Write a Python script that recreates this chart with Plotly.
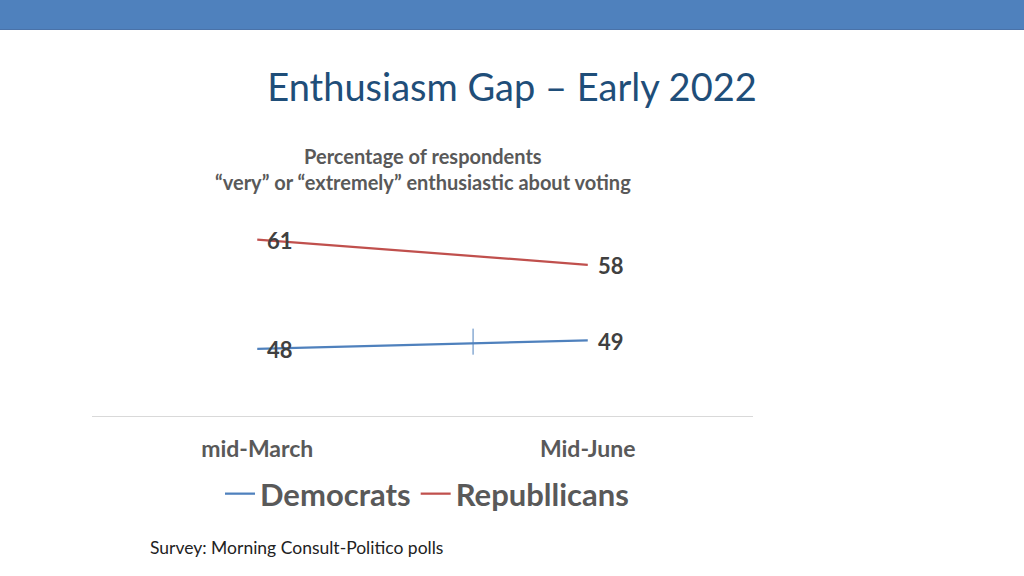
import plotly.graph_objects as go

categories = ["mid-March", "Mid-June"]
democrats = [48, 49]
republicans = [61, 58]
series_names = ["Democrats", "Republlicans"]

FONT = "Lato"
L, R, T, B = 92, 271, 206, 160
W, H = 1024, 576
PW, PH = W - L - R, H - T - B
YMIN, YMAX = 40, 65

def px_x(p):
    return (p - L) / PW

def px_y(p):
    return (H - B - p) / PH

fig = go.Figure()
fig.add_trace(go.Scatter(
    x=categories, y=democrats, name=series_names[0], mode="lines",
    line=dict(color="#4F81BD", width=2.25),
))
fig.add_trace(go.Scatter(
    x=categories, y=republicans, name=series_names[1], mode="lines",
    line=dict(color="#C0504D", width=2.25),
))

# data labels
for series in (democrats, republicans):
    for cat, v in zip(categories, series):
        fig.add_annotation(x=cat, y=v, text=str(v), showarrow=False,
                           xanchor="left", yanchor="middle", xshift=8, yshift=-1,
                           font=dict(family=FONT, size=22, color="#404040", weight="bold"))

# top band
fig.add_shape(type="rect", xref="paper", yref="paper",
              x0=px_x(0), x1=px_x(W), y0=px_y(30), y1=px_y(0),
              fillcolor="#4F81BD", line=dict(width=0), layer="below")
fig.add_shape(type="line", xref="paper", yref="paper",
              x0=px_x(0), x1=px_x(W), y0=px_y(29.5), y1=px_y(29.5),
              line=dict(color="#4A72A8", width=1))
# small vertical tick on the Democrats line
fig.add_shape(type="line", xref="x", yref="y",
              x0=0.653, x1=0.653, y0=47.3, y1=50.4,
              line=dict(color="#4F81BD", width=1))

fig.add_annotation(
    text="Percentage of respondents<br>“very” or “extremely” enthusiastic about voting",
    xref="paper", yref="paper", x=px_x(423), y=px_y(168.5),
    showarrow=False, xanchor="center", yanchor="middle",
    font=dict(family=FONT, size=20, color="#595959", weight="bold"),
)
fig.add_annotation(
    text="Survey: Morning Consult-Politico polls",
    xref="paper", yref="paper", x=px_x(148), y=px_y(547),
    showarrow=False, xanchor="left", yanchor="middle",
    font=dict(family=FONT, size=17.5, color="#222222"),
)

fig.update_layout(
    width=W, height=H,
    margin=dict(l=L, r=R, t=T, b=B),
    paper_bgcolor="white", plot_bgcolor="white",
    title=dict(text="Enthusiasm Gap – Early 2022", x=0.5, xanchor="center",
               y=1 - 88 / H, yanchor="middle",
               font=dict(family=FONT, size=38, color="#1F4E79")),
    showlegend=True,
    legend=dict(orientation="h", x=px_x(427), xanchor="center",
                y=px_y(494), yanchor="middle",
                font=dict(family=FONT, size=31, color="#595959", weight="bold"),
                itemwidth=30, bgcolor="rgba(0,0,0,0)"),
    xaxis=dict(type="category", range=[-0.5, 1.5], showgrid=False, zeroline=False,
               showline=True, linecolor="#D9D9D9", linewidth=1, ticks="",
               ticklabelstandoff=12,
               tickfont=dict(family=FONT, size=23, color="#595959", weight="bold")),
    yaxis=dict(range=[YMIN, YMAX], visible=False, showgrid=False, zeroline=False),
)

fig.write_html("out.html", config={"displayModeBar": False},
               post_script="document.body.style.margin='0';")
